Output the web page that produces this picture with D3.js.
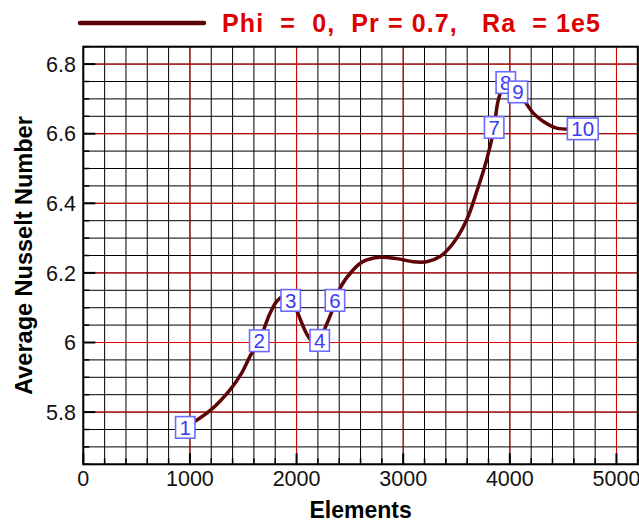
<!DOCTYPE html>
<html>
<head>
<meta charset="utf-8">
<script src="https://cdn.jsdelivr.net/npm/d3@7"></script>
<style>
body { margin: 0; background: #fff; }
svg { display: block; font-family: "Liberation Sans", Arial, sans-serif; }
</style>
</head>
<body>
<script>
// curve (elements, average Nusselt number)
var curveElements = [956, 1188, 1376, 1485, 1563, 1650, 1751, 1814, 1880, 1945, 2001, 2100, 2190, 2257, 2335, 2407, 2532, 2626, 2782, 2939, 3094, 3220, 3345, 3470, 3595, 3689, 3783, 3853, 3892, 3962, 4076, 4220, 4314, 4439, 4684];
var curveNu = [5.756, 5.804, 5.864, 5.912, 5.960, 6.005, 6.084, 6.118, 6.134, 6.128, 6.092, 6.022, 5.990, 6.034, 6.092, 6.156, 6.209, 6.233, 6.245, 6.241, 6.232, 6.232, 6.247, 6.286, 6.352, 6.433, 6.525, 6.618, 6.697, 6.747, 6.720, 6.659, 6.635, 6.616, 6.614];

// numbered point labels
var labelText = ["1", "2", "3", "4", "6", "7", "8", "9", "10"];
var labelElements = [956, 1650, 1945, 2217, 2360, 3853, 3962, 4076, 4684];
var labelNu = [5.756, 6.005, 6.121, 6.006, 6.121, 6.618, 6.747, 6.720, 6.614];

// ticks
var xTicks = [0, 1000, 2000, 3000, 4000, 5000];
var yTicks = [5.8, 6, 6.2, 6.4, 6.6, 6.8];

var legendText = "Phi  =  0,  Pr = 0.7,   Ra  = 1e5";

var width = 639, height = 523;
var lineColor = "#5e0306";

var svg = d3.select("body").append("svg")
    .attr("width", width)
    .attr("height", height);

var x = d3.scaleLinear().domain([0, 5200]).range([83.3, 637.8]);
var y = d3.scaleLinear().domain([5.65, 6.85]).range([464.3, 46.7]);

var x0 = x.range()[0], x1 = x.range()[1];
var yb = y.range()[0], yt = y.range()[1];

// minor grid
var xMinor = d3.range(0, 5201, 200);
var yMinor = d3.range(0, 25).map(function(i) { return 5.65 + i * 0.05; });

var grid = svg.append("g");
grid.selectAll(".vx").data(xMinor).enter().append("line")
    .attr("x1", function(d) { return x(d); })
    .attr("x2", function(d) { return x(d); })
    .attr("y1", yb).attr("y2", yt)
    .attr("stroke", "#000").attr("stroke-width", 1);
grid.selectAll(".hy").data(yMinor).enter().append("line")
    .attr("y1", function(d) { return y(d); })
    .attr("y2", function(d) { return y(d); })
    .attr("x1", x0).attr("x2", x1)
    .attr("stroke", "#000").attr("stroke-width", 1);

// major grid in red
grid.selectAll(".mx").data(xTicks.slice(1)).enter().append("line")
    .attr("x1", function(d) { return x(d); })
    .attr("x2", function(d) { return x(d); })
    .attr("y1", yb).attr("y2", yt)
    .attr("stroke", "#e00000").attr("stroke-width", 1);
grid.selectAll(".my").data(yTicks).enter().append("line")
    .attr("y1", function(d) { return y(d); })
    .attr("y2", function(d) { return y(d); })
    .attr("x1", x0).attr("x2", x1)
    .attr("stroke", "#e00000").attr("stroke-width", 1);

// curve
var pts = curveElements.map(function(e, i) { return [e, curveNu[i]]; });
var line = d3.line()
    .x(function(d) { return x(d[0]); })
    .y(function(d) { return y(d[1]); })
    .curve(d3.curveCatmullRom.alpha(0.5));

svg.append("path")
    .datum(pts)
    .attr("d", line)
    .attr("fill", "none")
    .attr("stroke", lineColor)
    .attr("stroke-width", 3.5)
    .attr("stroke-linejoin", "round");

// labels
var lab = svg.append("g").selectAll("g")
    .data(labelText)
    .enter().append("g")
    .attr("transform", function(d, i) { return "translate(" + x(labelElements[i]) + "," + y(labelNu[i]) + ")"; });

lab.append("rect")
    .attr("x", function(d) { return -(d.length * 11.4 + 8) / 2; })
    .attr("y", -10.8)
    .attr("width", function(d) { return d.length * 11.4 + 8; })
    .attr("height", 21.6)
    .attr("fill", "#fff")
    .attr("stroke", "#6b6bff")
    .attr("stroke-width", 1.6);

lab.append("text")
    .attr("text-anchor", "middle")
    .attr("y", 7.4)
    .attr("font-size", 20.5)
    .attr("fill", "#3a3af5")
    .text(function(d) { return d; });

// ticks
var ticks = svg.append("g").attr("stroke", "#000");
ticks.selectAll(".tx").data(xMinor).enter().append("line")
    .attr("x1", function(d) { return x(d); })
    .attr("x2", function(d) { return x(d); })
    .attr("y1", yb)
    .attr("y2", function(d) { return d % 1000 === 0 ? yb - 11 : yb - 6; })
    .attr("stroke-width", function(d) { return d % 1000 === 0 ? 2 : 1.5; });
ticks.selectAll(".ty").data(yMinor).enter().append("line")
    .attr("y1", function(d) { return y(d); })
    .attr("y2", function(d) { return y(d); })
    .attr("x1", x0)
    .attr("x2", function(d, i) { return (i % 4 === 3) ? x0 + 12 : x0 + 6; })
    .attr("stroke-width", function(d, i) { return (i % 4 === 3) ? 2 : 1.5; });

// frame
svg.append("rect")
    .attr("x", x0).attr("y", yt)
    .attr("width", x1 - x0).attr("height", yb - yt)
    .attr("fill", "none")
    .attr("stroke", "#000")
    .attr("stroke-width", 2);

// tick labels
svg.append("g").selectAll("text").data(xTicks).enter().append("text")
    .attr("x", function(d) { return x(d); })
    .attr("y", 486)
    .attr("text-anchor", "middle")
    .attr("font-size", 21.5)
    .attr("fill", "#111")
    .text(function(d) { return String(d); });

svg.append("g").selectAll("text").data(yTicks).enter().append("text")
    .attr("x", 76)
    .attr("y", function(d) { return y(d); })
    .attr("dy", "0.36em")
    .attr("text-anchor", "end")
    .attr("font-size", 21.5)
    .attr("fill", "#111")
    .text(function(d) { return String(d); });

// axis titles
svg.append("text")
    .attr("x", (x0 + x1) / 2)
    .attr("y", 518)
    .attr("text-anchor", "middle")
    .attr("font-size", 23)
    .attr("font-weight", "bold")
    .text("Elements");

svg.append("text")
    .attr("transform", "translate(32," + ((yb + yt) / 2) + ") rotate(-90)")
    .attr("text-anchor", "middle")
    .attr("font-size", 23.5)
    .attr("font-weight", "bold")
    .text("Average Nusselt Number");

// legend
svg.append("line")
    .attr("x1", 80).attr("x2", 204)
    .attr("y1", 23).attr("y2", 23)
    .attr("stroke", lineColor)
    .attr("stroke-width", 4.5)
    .attr("stroke-linecap", "round");

svg.append("text")
    .attr("x", 222)
    .attr("y", 32)
    .attr("font-size", 25)
    .attr("font-weight", "bold")
    .attr("fill", "#dd0000")
    .attr("textLength", 378)
    .attr("lengthAdjust", "spacing")
    .style("white-space", "pre")
    .text(legendText);
</script>
</body>
</html>
